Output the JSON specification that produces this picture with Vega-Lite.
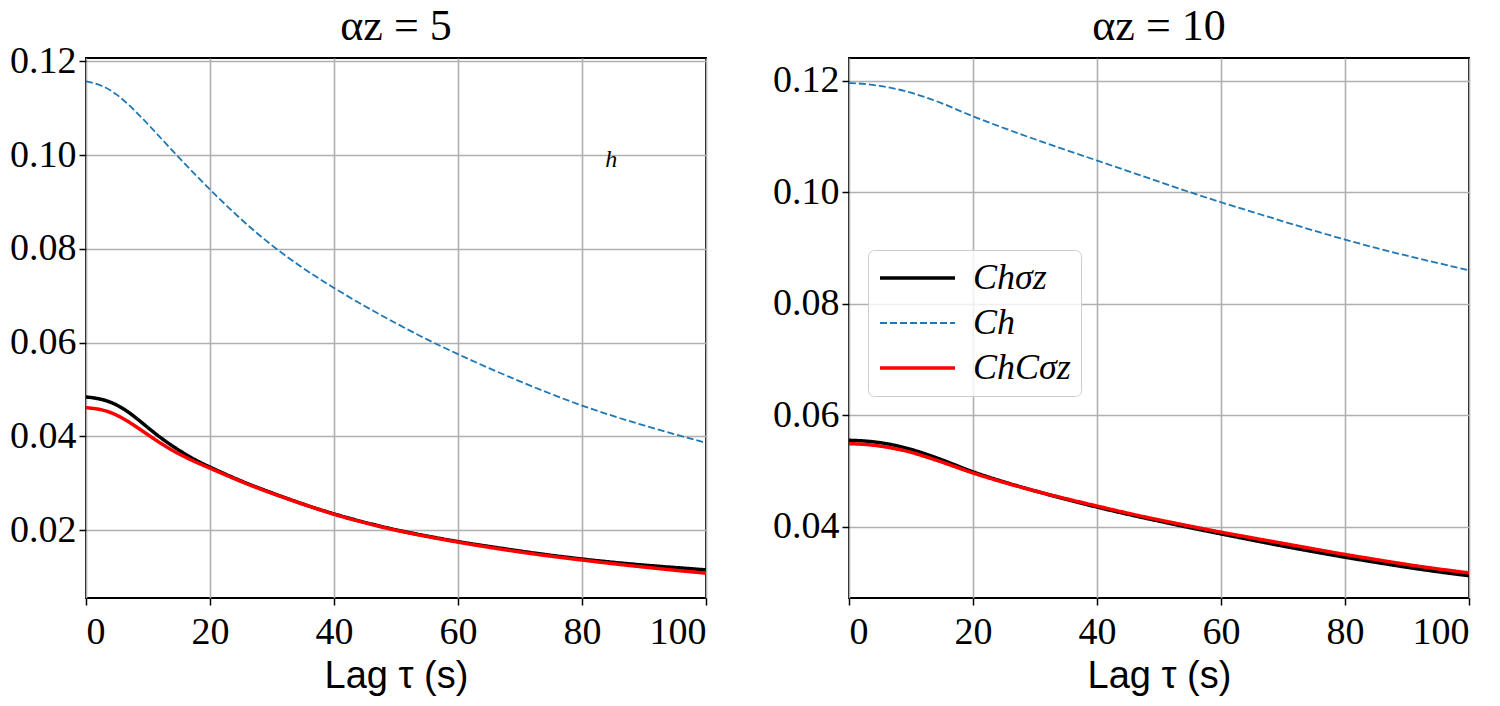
{
  "$schema": "https://vega.github.io/schema/vega-lite/v6.json",
  "padding": {"left": 8, "top": 4, "right": 0, "bottom": 0},
  "bounds": "flush",
  "spacing": 143,
  "background": "white",
  "config": {
    "view": {"stroke": "black", "strokeWidth": 2},
    "axis": {"grid": true, "gridColor": "#b0b0b0", "gridWidth": 1.6, "gridOpacity": 1, "domain": false, "tickColor": "black", "tickWidth": 1.5, "tickSize": 7, "labelFont": "Liberation Serif", "labelFontSize": 38, "labelColor": "black", "titleFont": "Liberation Sans", "titleFontSize": 38, "titleFontWeight": "normal", "titleColor": "black"},
    "title": {"font": "Liberation Serif", "fontSize": 44, "fontWeight": "normal", "color": "black", "offset": 9, "frame": "group"},
    "legend": {"orient": "none", "legendX": 19, "legendY": 192, "symbolType": "stroke", "symbolSize": 5625, "labelFont": "Liberation Serif", "labelFontStyle": "italic", "labelFontSize": 36, "labelColor": "black", "padding": 10, "rowPadding": 9, "clipHeight": 36, "labelOffset": 16, "fillColor": "rgba(255,255,255,0.8)", "strokeColor": "#cccccc", "cornerRadius": 6}
  },
  "datasets": {
    "a5": [
      {"tau": 0, "value": 0.1157, "series": "Ch"}, {"tau": 2.5, "value": 0.1150, "series": "Ch"}, {"tau": 5, "value": 0.1130, "series": "Ch"}, {"tau": 7.5, "value": 0.1100, "series": "Ch"}, {"tau": 10, "value": 0.1066, "series": "Ch"}, {"tau": 12.5, "value": 0.1030, "series": "Ch"}, {"tau": 15, "value": 0.0994, "series": "Ch"}, {"tau": 17.5, "value": 0.0960, "series": "Ch"}, {"tau": 20, "value": 0.0926, "series": "Ch"}, {"tau": 25, "value": 0.0862, "series": "Ch"}, {"tau": 30, "value": 0.0806, "series": "Ch"}, {"tau": 35, "value": 0.0758, "series": "Ch"}, {"tau": 40, "value": 0.0716, "series": "Ch"}, {"tau": 45, "value": 0.0677, "series": "Ch"}, {"tau": 50, "value": 0.0641, "series": "Ch"}, {"tau": 55, "value": 0.0606, "series": "Ch"}, {"tau": 60, "value": 0.0575, "series": "Ch"}, {"tau": 65, "value": 0.0545, "series": "Ch"}, {"tau": 70, "value": 0.0517, "series": "Ch"}, {"tau": 75, "value": 0.0490, "series": "Ch"}, {"tau": 80, "value": 0.0465, "series": "Ch"}, {"tau": 85, "value": 0.0443, "series": "Ch"}, {"tau": 90, "value": 0.0423, "series": "Ch"}, {"tau": 95, "value": 0.0404, "series": "Ch"}, {"tau": 100, "value": 0.0386, "series": "Ch"},
      {"tau": 0, "value": 0.0484, "series": "Chσz"}, {"tau": 2.5, "value": 0.0480, "series": "Chσz"}, {"tau": 5, "value": 0.0468, "series": "Chσz"}, {"tau": 7.5, "value": 0.0446, "series": "Chσz"}, {"tau": 10, "value": 0.0418, "series": "Chσz"}, {"tau": 12.5, "value": 0.0392, "series": "Chσz"}, {"tau": 15, "value": 0.0370, "series": "Chσz"}, {"tau": 17.5, "value": 0.0350, "series": "Chσz"}, {"tau": 20, "value": 0.0334, "series": "Chσz"}, {"tau": 25, "value": 0.0304, "series": "Chσz"}, {"tau": 30, "value": 0.0279, "series": "Chσz"}, {"tau": 35, "value": 0.0255, "series": "Chσz"}, {"tau": 40, "value": 0.0234, "series": "Chσz"}, {"tau": 45, "value": 0.0216, "series": "Chσz"}, {"tau": 50, "value": 0.0200, "series": "Chσz"}, {"tau": 55, "value": 0.0187, "series": "Chσz"}, {"tau": 60, "value": 0.0175, "series": "Chσz"}, {"tau": 65, "value": 0.0165, "series": "Chσz"}, {"tau": 70, "value": 0.0155, "series": "Chσz"}, {"tau": 75, "value": 0.0146, "series": "Chσz"}, {"tau": 80, "value": 0.0138, "series": "Chσz"}, {"tau": 85, "value": 0.0131, "series": "Chσz"}, {"tau": 90, "value": 0.0125, "series": "Chσz"}, {"tau": 95, "value": 0.0120, "series": "Chσz"}, {"tau": 100, "value": 0.0115, "series": "Chσz"},
      {"tau": 0, "value": 0.0461, "series": "ChCσz"}, {"tau": 2.5, "value": 0.0458, "series": "ChCσz"}, {"tau": 5, "value": 0.0446, "series": "ChCσz"}, {"tau": 7.5, "value": 0.0426, "series": "ChCσz"}, {"tau": 10, "value": 0.0403, "series": "ChCσz"}, {"tau": 12.5, "value": 0.0381, "series": "ChCσz"}, {"tau": 15, "value": 0.0362, "series": "ChCσz"}, {"tau": 17.5, "value": 0.0346, "series": "ChCσz"}, {"tau": 20, "value": 0.0332, "series": "ChCσz"}, {"tau": 25, "value": 0.0303, "series": "ChCσz"}, {"tau": 30, "value": 0.0278, "series": "ChCσz"}, {"tau": 35, "value": 0.0255, "series": "ChCσz"}, {"tau": 40, "value": 0.0233, "series": "ChCσz"}, {"tau": 45, "value": 0.0215, "series": "ChCσz"}, {"tau": 50, "value": 0.0199, "series": "ChCσz"}, {"tau": 55, "value": 0.0186, "series": "ChCσz"}, {"tau": 60, "value": 0.0174, "series": "ChCσz"}, {"tau": 65, "value": 0.0163, "series": "ChCσz"}, {"tau": 70, "value": 0.0153, "series": "ChCσz"}, {"tau": 75, "value": 0.0144, "series": "ChCσz"}, {"tau": 80, "value": 0.0136, "series": "ChCσz"}, {"tau": 85, "value": 0.0128, "series": "ChCσz"}, {"tau": 90, "value": 0.0121, "series": "ChCσz"}, {"tau": 95, "value": 0.0114, "series": "ChCσz"}, {"tau": 100, "value": 0.0108, "series": "ChCσz"}
    ],
    "a10": [
      {"tau": 0, "value": 0.1196, "series": "Ch"}, {"tau": 2.5, "value": 0.1195, "series": "Ch"}, {"tau": 5, "value": 0.1191, "series": "Ch"}, {"tau": 7.5, "value": 0.1186, "series": "Ch"}, {"tau": 10, "value": 0.1179, "series": "Ch"}, {"tau": 12.5, "value": 0.1170, "series": "Ch"}, {"tau": 15, "value": 0.1160, "series": "Ch"}, {"tau": 17.5, "value": 0.1148, "series": "Ch"}, {"tau": 20, "value": 0.1136, "series": "Ch"}, {"tau": 25, "value": 0.1115, "series": "Ch"}, {"tau": 30, "value": 0.1095, "series": "Ch"}, {"tau": 35, "value": 0.1076, "series": "Ch"}, {"tau": 40, "value": 0.1057, "series": "Ch"}, {"tau": 45, "value": 0.1038, "series": "Ch"}, {"tau": 50, "value": 0.1019, "series": "Ch"}, {"tau": 55, "value": 0.1000, "series": "Ch"}, {"tau": 60, "value": 0.0982, "series": "Ch"}, {"tau": 65, "value": 0.0965, "series": "Ch"}, {"tau": 70, "value": 0.0948, "series": "Ch"}, {"tau": 75, "value": 0.0931, "series": "Ch"}, {"tau": 80, "value": 0.0915, "series": "Ch"}, {"tau": 85, "value": 0.0900, "series": "Ch"}, {"tau": 90, "value": 0.0886, "series": "Ch"}, {"tau": 95, "value": 0.0873, "series": "Ch"}, {"tau": 100, "value": 0.0860, "series": "Ch"},
      {"tau": 0, "value": 0.0555, "series": "Chσz"}, {"tau": 2.5, "value": 0.0554, "series": "Chσz"}, {"tau": 5, "value": 0.0551, "series": "Chσz"}, {"tau": 7.5, "value": 0.0546, "series": "Chσz"}, {"tau": 10, "value": 0.0539, "series": "Chσz"}, {"tau": 12.5, "value": 0.0530, "series": "Chσz"}, {"tau": 15, "value": 0.0520, "series": "Chσz"}, {"tau": 17.5, "value": 0.0509, "series": "Chσz"}, {"tau": 20, "value": 0.0498, "series": "Chσz"}, {"tau": 25, "value": 0.0480, "series": "Chσz"}, {"tau": 30, "value": 0.0464, "series": "Chσz"}, {"tau": 35, "value": 0.0449, "series": "Chσz"}, {"tau": 40, "value": 0.0435, "series": "Chσz"}, {"tau": 45, "value": 0.0422, "series": "Chσz"}, {"tau": 50, "value": 0.0410, "series": "Chσz"}, {"tau": 55, "value": 0.0398, "series": "Chσz"}, {"tau": 60, "value": 0.0387, "series": "Chσz"}, {"tau": 65, "value": 0.0376, "series": "Chσz"}, {"tau": 70, "value": 0.0365, "series": "Chσz"}, {"tau": 75, "value": 0.0355, "series": "Chσz"}, {"tau": 80, "value": 0.0345, "series": "Chσz"}, {"tau": 85, "value": 0.0336, "series": "Chσz"}, {"tau": 90, "value": 0.0327, "series": "Chσz"}, {"tau": 95, "value": 0.0319, "series": "Chσz"}, {"tau": 100, "value": 0.0312, "series": "Chσz"},
      {"tau": 0, "value": 0.0549, "series": "ChCσz"}, {"tau": 2.5, "value": 0.0548, "series": "ChCσz"}, {"tau": 5, "value": 0.0545, "series": "ChCσz"}, {"tau": 7.5, "value": 0.0540, "series": "ChCσz"}, {"tau": 10, "value": 0.0534, "series": "ChCσz"}, {"tau": 12.5, "value": 0.0525, "series": "ChCσz"}, {"tau": 15, "value": 0.0516, "series": "ChCσz"}, {"tau": 17.5, "value": 0.0506, "series": "ChCσz"}, {"tau": 20, "value": 0.0496, "series": "ChCσz"}, {"tau": 25, "value": 0.0479, "series": "ChCσz"}, {"tau": 30, "value": 0.0464, "series": "ChCσz"}, {"tau": 35, "value": 0.0450, "series": "ChCσz"}, {"tau": 40, "value": 0.0437, "series": "ChCσz"}, {"tau": 45, "value": 0.0424, "series": "ChCσz"}, {"tau": 50, "value": 0.0412, "series": "ChCσz"}, {"tau": 55, "value": 0.0401, "series": "ChCσz"}, {"tau": 60, "value": 0.0390, "series": "ChCσz"}, {"tau": 65, "value": 0.0380, "series": "ChCσz"}, {"tau": 70, "value": 0.0370, "series": "ChCσz"}, {"tau": 75, "value": 0.0360, "series": "ChCσz"}, {"tau": 80, "value": 0.0350, "series": "ChCσz"}, {"tau": 85, "value": 0.0341, "series": "ChCσz"}, {"tau": 90, "value": 0.0332, "series": "ChCσz"}, {"tau": 95, "value": 0.0324, "series": "ChCσz"}, {"tau": 100, "value": 0.0317, "series": "ChCσz"}
    ],
    "note": [{"tau": 84.7, "value": 0.099, "label": "h"}]
  },
  "hconcat": [
    {
      "width": 620,
      "height": 540,
      "title": {"text": "αz = 5", "dy": 16},
      "layer": [
        {
          "data": {"name": "a5"},
          "mark": {"type": "line", "interpolate": "basis", "clip": true},
          "encoding": {
            "x": {"field": "tau", "type": "quantitative", "scale": {"domain": [0, 100], "nice": false}, "axis": {"values": [0, 20, 40, 60, 80, 100], "title": "Lag τ (s)", "labelPadding": 8, "titlePadding": 6}},
            "y": {"field": "value", "type": "quantitative", "scale": {"domain": [0.0055, 0.1207], "nice": false, "zero": false}, "axis": {"values": [0.02, 0.04, 0.06, 0.08, 0.10, 0.12], "format": ".2f", "title": null, "labelPadding": 3}},
            "color": {"field": "series", "type": "nominal", "scale": {"domain": ["Chσz", "Ch", "ChCσz"], "range": ["#000000", "#1f77b4", "#ff0000"]}, "legend": null},
            "strokeDash": {"field": "series", "type": "nominal", "scale": {"domain": ["Chσz", "Ch", "ChCσz"], "range": [[1, 0], [7, 3], [1, 0]]}, "legend": null},
            "strokeWidth": {"field": "series", "type": "nominal", "scale": {"type": "ordinal", "domain": ["Chσz", "Ch", "ChCσz"], "range": [3.5, 1.8, 3.5]}, "legend": null}
          }
        },
        {
          "data": {"name": "note"},
          "mark": {"type": "text", "font": "Liberation Serif", "fontStyle": "italic", "fontSize": 24, "color": "black"},
          "encoding": {
            "x": {"field": "tau", "type": "quantitative"},
            "y": {"field": "value", "type": "quantitative"},
            "text": {"field": "label"}
          }
        }
      ]
    },
    {
      "width": 620,
      "height": 540,
      "title": {"text": "αz = 10"},
      "layer": [
        {
          "data": {"name": "a10"},
          "mark": {"type": "line", "interpolate": "basis", "clip": true},
          "encoding": {
            "x": {"field": "tau", "type": "quantitative", "scale": {"domain": [0, 100], "nice": false}, "axis": {"values": [0, 20, 40, 60, 80, 100], "title": "Lag τ (s)", "labelPadding": 8, "titlePadding": 6}},
            "y": {"field": "value", "type": "quantitative", "scale": {"domain": [0.0272, 0.1241], "nice": false, "zero": false}, "axis": {"values": [0.04, 0.06, 0.08, 0.10, 0.12], "format": ".2f", "title": null, "labelPadding": 3}},
            "color": {"field": "series", "type": "nominal", "scale": {"domain": ["Chσz", "Ch", "ChCσz"], "range": ["#000000", "#1f77b4", "#ff0000"]}, "legend": {"title": null}},
            "strokeDash": {"field": "series", "type": "nominal", "scale": {"domain": ["Chσz", "Ch", "ChCσz"], "range": [[1, 0], [7, 3], [1, 0]]}, "legend": {"title": null}},
            "strokeWidth": {"field": "series", "type": "nominal", "scale": {"type": "ordinal", "domain": ["Chσz", "Ch", "ChCσz"], "range": [3.5, 1.8, 3.5]}, "legend": {"title": null}}
          }
        }
      ]
    }
  ],
  "resolve": {"scale": {"x": "independent", "y": "independent", "color": "independent", "strokeDash": "independent", "strokeWidth": "independent"}}
}
